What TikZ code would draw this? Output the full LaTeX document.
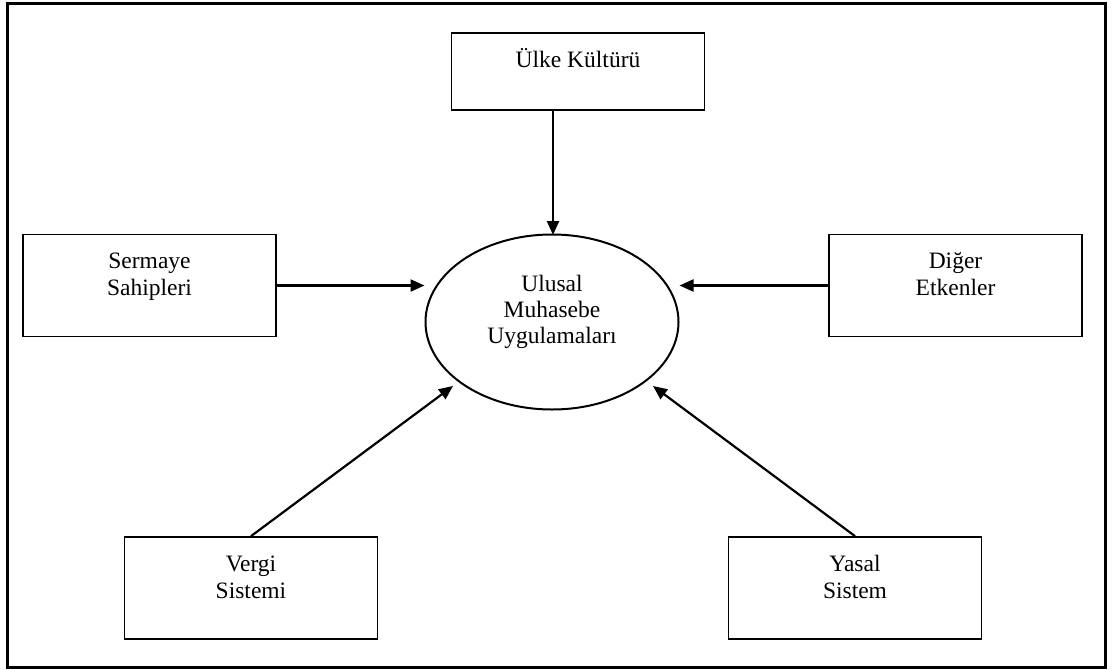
\documentclass[tikz,border=0pt]{standalone}
\usepackage{fontspec}
\setmainfont{Liberation Serif}
\usetikzlibrary{shapes.geometric,arrows.meta}
\begin{document}
\begin{tikzpicture}[x=1pt,y=-1pt,
  factor/.style={draw,line width=1.7pt,rectangle,minimum width=253pt,minimum height=102pt,
    align=center,inner sep=0pt,font=\fontsize{23.5}{27}\selectfont},
  core/.style={draw,line width=2pt,ellipse,minimum width=253pt,minimum height=175pt,
    align=center,inner sep=0pt,font=\fontsize{23.5}{26}\selectfont},
  link/.style={line width=2.2pt,-{Triangle[length=14pt,width=12pt]}}]
  \useasboundingbox (0,0) rectangle (1113,669);
  % outer frame
  \draw[line width=3pt] (7,4) rectangle (1105,667);
  % central concept and influencing factors
  \node[core] (ell) at (552,322) {Ulusal\\Muhasebe\\Uygulamaları\\[-8pt]\strut};
  \node[factor,minimum height=77pt] (ulke) at (578,71.5) {Ülke Kültürü\\[-8pt]\strut};
  \node[factor] (serm) at (149.5,285.5) {Sermaye\\Sahipleri\\[-13pt]\strut};
  \node[factor] (dige) at (955.5,285.5) {Diğer\\Etkenler\\[-13pt]\strut};
  \node[factor] (verg) at (251,588) {Vergi\\Sistemi\\[-13pt]\strut};
  \node[factor] (yasa) at (855,588) {Yasal\\Sistem\\[-13pt]\strut};
  % arrow end points on the ellipse rim
  \coordinate (vt) at (453,386);
  \coordinate (yt) at (653,386);
  \draw[link] (ulke.south -| 553,0) -- (553,235);
  \draw[link] (serm.east) -- (serm.east -| ell.west);
  \draw[link] (dige.west) -- (dige.west -| ell.east);
  \draw[link] (verg.north) -- (vt);
  \draw[link] (yasa.north) -- (yt);
\end{tikzpicture}
\end{document}
